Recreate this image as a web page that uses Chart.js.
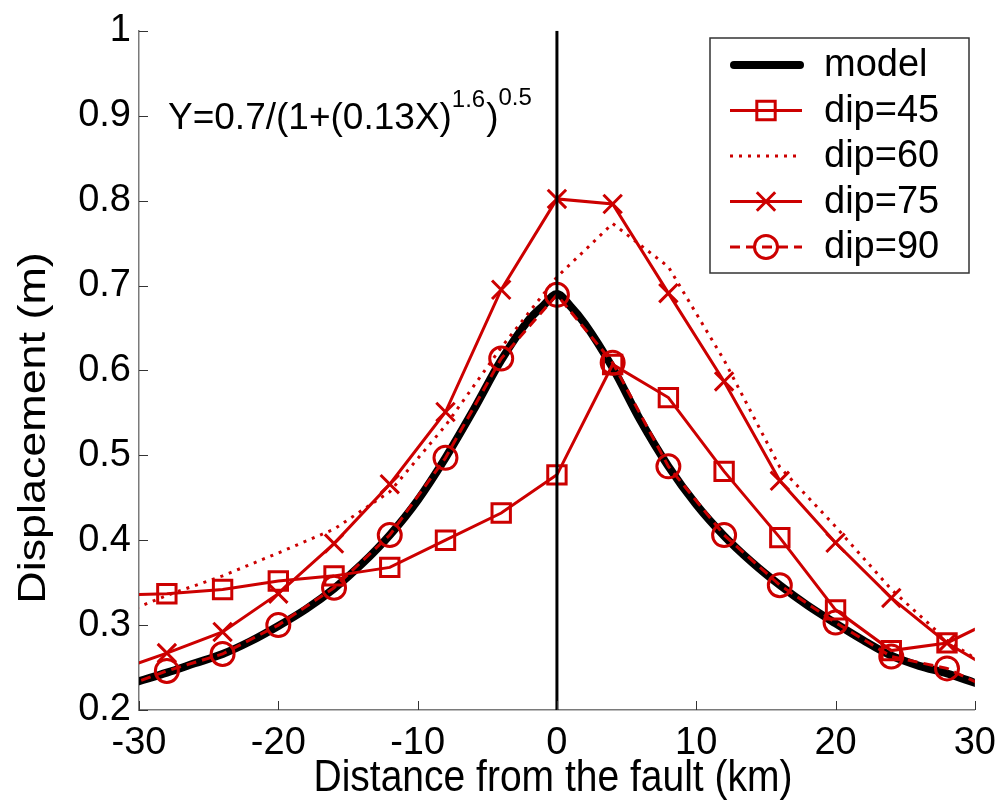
<!DOCTYPE html>
<html>
<head>
<meta charset="utf-8">
<script src="https://cdn.jsdelivr.net/npm/chart.js@4.4.0/dist/chart.umd.min.js"></script>
<style>
  html, body { margin: 0; padding: 0; background: #fff; }
  canvas { display: block; }
</style>
</head>
<body>
<canvas id="chart" width="1007" height="801"></canvas>
<script>
// model curve, every 2 km
const modelDist = [-30, -28, -26, -24, -22, -20, -18, -16, -14, -12, -10, -8, -6, -4, -2, -1, 0, 1, 2, 4, 6, 8, 10, 12, 14, 16, 18, 20, 22, 24, 26, 28, 30];
const modelDisp = [0.234, 0.244, 0.255, 0.266, 0.281, 0.299, 0.319, 0.343, 0.372, 0.406, 0.447, 0.497, 0.553, 0.612, 0.660, 0.676, 0.690, 0.675, 0.655, 0.603, 0.541, 0.487, 0.442, 0.405, 0.374, 0.347, 0.323, 0.302, 0.282, 0.264, 0.252, 0.243, 0.232];

// simulated profiles, every 4 km (end points fall just outside the axes)
const dipDist = [-32, -28, -24, -20, -16, -12, -8, -4, 0, 4, 8, 12, 16, 20, 24, 28, 32];
const dip45 = [0.335, 0.337, 0.342, 0.352, 0.358, 0.368, 0.400, 0.432, 0.477, 0.607, 0.568, 0.481, 0.403, 0.318, 0.270, 0.279, 0.311];
const dip60 = [0.308, 0.335, 0.358, 0.385, 0.413, 0.457, 0.535, 0.627, 0.710, 0.773, 0.722, 0.612, 0.486, 0.416, 0.342, 0.282, 0.240];
const dip75 = [0.244, 0.267, 0.292, 0.337, 0.396, 0.466, 0.551, 0.695, 0.802, 0.796, 0.691, 0.587, 0.470, 0.397, 0.332, 0.279, 0.240];
const dip90 = [0.222, 0.246, 0.266, 0.300, 0.344, 0.406, 0.497, 0.614, 0.689, 0.609, 0.487, 0.406, 0.347, 0.303, 0.263, 0.249, 0.218];

// fault trace
const faultX = [0, 0];
const faultY = [0.2, 1];

const xTicks = [-30, -20, -10, 0, 10, 20, 30];
const yTicks = [0.2, 0.3, 0.4, 0.5, 0.6, 0.7, 0.8, 0.9, 1];

const red = '#cc0000';
const font = "'Liberation Sans', Arial, sans-serif";

const pts = (xs, ys) => xs.map((x, i) => ({ x: x, y: ys[i] }));

// MATLAB-style ticks pointing into the plot
const inwardTicks = {
  id: 'inwardTicks',
  afterDatasetsDraw(chart) {
    const { ctx, chartArea: a, scales } = chart;
    ctx.save();
    ctx.strokeStyle = '#333';
    ctx.lineWidth = 1;
    ctx.beginPath();
    xTicks.forEach(v => {
      const px = Math.round(scales.x.getPixelForValue(v)) + 0.5;
      ctx.moveTo(px, a.bottom);
      ctx.lineTo(px, a.bottom - 9);
    });
    yTicks.forEach(v => {
      const py = Math.round(scales.y.getPixelForValue(v)) + 0.5;
      ctx.moveTo(a.left, py);
      ctx.lineTo(a.left + 9, py);
    });
    ctx.stroke();
    ctx.restore();
  }
};

// axis titles (the figure is a little stretched vertically) and the fitted equation
const texts = {
  id: 'texts',
  afterDraw(chart) {
    const ctx = chart.ctx;
    ctx.save();
    ctx.fillStyle = '#000';
    ctx.textAlign = 'center';
    ctx.textBaseline = 'middle';
    ctx.font = '39px ' + font;
    ctx.save();
    ctx.translate(553, 779);
    ctx.scale(1, 1.15);
    ctx.fillText('Distance from the fault (km)', 0, 0);
    ctx.restore();
    ctx.translate(34, 428);
    ctx.rotate(-Math.PI / 2);
    ctx.scale(1.15, 1);
    ctx.fillText('Displacement (m)', 0, 0);
    ctx.restore();

    ctx.save();
    ctx.fillStyle = '#000';
    ctx.textAlign = 'left';
    ctx.textBaseline = 'alphabetic';
    let x = 168;
    const base = 129;
    const big = '37px ' + font, small = '24px ' + font;
    const parts = [['Y=0.7/(1+(0.13X)', big, 0], ['1.6', small, -22], [')', big, 0], ['0.5', small, -24]];
    parts.forEach(p => {
      ctx.font = p[1];
      ctx.fillText(p[0], x, base + p[2]);
      x += ctx.measureText(p[0]).width + (p[1] === small ? 1 : 0);
    });
    ctx.restore();
  }
};

// boxed legend in the upper right corner
const boxLegend = {
  id: 'boxLegend',
  afterDraw(chart) {
    const ctx = chart.ctx;
    const box = { l: 710, t: 38, r: 969, b: 273 };
    ctx.save();
    ctx.fillStyle = '#fff';
    ctx.fillRect(box.l, box.t, box.r - box.l, box.b - box.t);
    ctx.strokeStyle = '#333';
    ctx.lineWidth = 1.5;
    ctx.strokeRect(box.l, box.t, box.r - box.l, box.b - box.t);
    const shown = chart.data.datasets.filter(d => d.label);
    shown.forEach((ds, i) => {
      const y = 65 + i * 45.5;
      ctx.save();
      ctx.strokeStyle = ds.borderColor;
      ctx.lineWidth = ds.borderWidth;
      ctx.lineCap = ds.borderCapStyle || 'butt';
      ctx.setLineDash(ds.borderDash || []);
      ctx.beginPath();
      ctx.moveTo(ds.borderCapStyle === 'round' ? 734 : 730, y);
      ctx.lineTo(ds.borderCapStyle === 'round' ? 800 : 802, y);
      ctx.stroke();
      ctx.restore();
      if (ds.pointRadius > 0) {
        ctx.save();
        ctx.strokeStyle = ds.borderColor;
        ctx.fillStyle = 'rgba(0,0,0,0)';
        ctx.lineWidth = ds.pointBorderWidth;
        Chart.helpers.drawPoint(ctx, { pointStyle: ds.pointStyle, radius: ds.pointRadius, borderWidth: ds.pointBorderWidth, rotation: 0 }, 766, y);
        ctx.restore();
      }
      ctx.fillStyle = '#000';
      ctx.font = '38px ' + font;
      ctx.textAlign = 'left';
      ctx.textBaseline = 'middle';
      ctx.fillText(ds.label, 824, y + 1);
    });
    ctx.restore();
  }
};

const lineBase = { pointHoverRadius: 0, fill: false, tension: 0 };

new Chart(document.getElementById('chart'), {
  type: 'line',
  data: {
    datasets: [
      { ...lineBase, label: 'model', data: pts(modelDist, modelDisp), borderColor: '#000', borderWidth: 8,
        borderCapStyle: 'round', borderJoinStyle: 'round', pointRadius: 0, cubicInterpolationMode: 'monotone', order: 6 },
      { ...lineBase, label: 'dip=45', data: pts(dipDist, dip45), borderColor: red, borderWidth: 3,
        pointStyle: 'rect', pointRadius: 13, pointBorderWidth: 3, pointBorderColor: red, pointBackgroundColor: 'rgba(0,0,0,0)', order: 5 },
      { ...lineBase, label: 'dip=60', data: pts(dipDist, dip60), borderColor: red, borderWidth: 3, borderDash: [3, 6],
        pointRadius: 0, order: 4 },
      { ...lineBase, label: 'dip=75', data: pts(dipDist, dip75), borderColor: red, borderWidth: 3,
        pointStyle: 'crossRot', pointRadius: 13, pointBorderWidth: 3, pointBorderColor: red, pointBackgroundColor: 'rgba(0,0,0,0)', order: 3 },
      { ...lineBase, label: 'dip=90', data: pts(dipDist, dip90), borderColor: red, borderWidth: 3, borderDash: [10, 6],
        pointStyle: 'circle', pointRadius: 11.5, pointBorderWidth: 3, pointBorderColor: red, pointBackgroundColor: 'rgba(0,0,0,0)', order: 2 },
      { ...lineBase, label: '', data: pts(faultX, faultY), borderColor: '#000', borderWidth: 3, pointRadius: 0, order: 1 }
    ]
  },
  options: {
    responsive: false,
    animation: false,
    devicePixelRatio: 1,
    layout: { padding: { top: 21, right: 26, left: 0, bottom: 0 } },
    plugins: { legend: { display: false }, tooltip: { enabled: false } },
    events: [],
    scales: {
      x: {
        type: 'linear', min: -30, max: 30,
        afterBuildTicks: s => { s.ticks = xTicks.map(v => ({ value: v })); },
        afterFit: s => { s.height = 91; },
        grid: { display: false, drawTicks: false },
        border: { display: true, color: '#7a7a7a', width: 1.5 },
        ticks: { color: '#000', font: { family: font, size: 38 }, padding: 11, maxRotation: 0, autoSkip: false,
          callback: v => String(v) }
      },
      y: {
        type: 'linear', min: 0.2, max: 1,
        afterBuildTicks: s => { s.ticks = yTicks.map(v => ({ value: v })); },
        afterFit: s => { s.width = 139; },
        grid: { display: false, drawTicks: false },
        border: { display: true, color: '#7a7a7a', width: 1.5 },
        ticks: { color: '#000', font: { family: font, size: 38 }, padding: 8, autoSkip: false,
          callback: v => String(Math.round(v * 10) / 10) }
      }
    }
  },
  plugins: [inwardTicks, boxLegend, texts]
});
</script>
</body>
</html>
